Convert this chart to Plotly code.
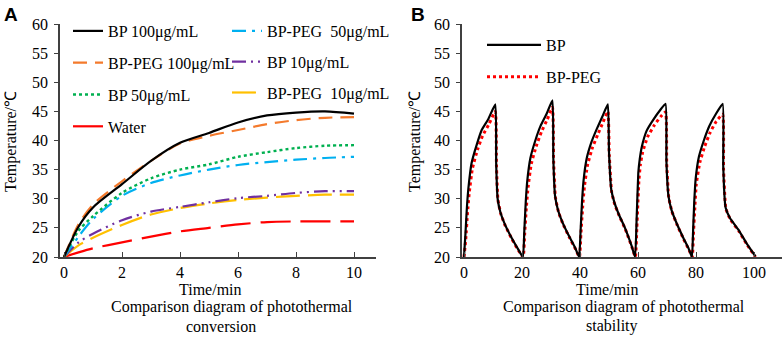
import plotly.graph_objects as go

# ---------------- Panel A data (photothermal conversion) ----------------
time_a = [0, 0.5, 1, 2, 3, 4, 5, 6, 7, 8, 9, 10]
bp100 = [20, 25.2, 28.5, 32.5, 36.5, 39.6, 41.3, 43.1, 44.3, 44.8, 45.0, 44.6]
bppeg100 = [20, 25.6, 29.0, 33.0, 36.5, 39.5, 40.8, 41.8, 42.8, 43.5, 43.9, 44.0]
bp50 = [20, 24.5, 27.0, 31.0, 33.5, 35.0, 35.9, 37.2, 38.0, 38.7, 39.1, 39.2]
bppeg50 = [20, 23.5, 26.5, 30.5, 32.7, 34.0, 35.0, 35.8, 36.3, 36.7, 37.0, 37.2]
bp10 = [20, 22.5, 24.0, 26.3, 27.8, 28.6, 29.4, 30.1, 30.5, 31.0, 31.3, 31.3]
bppeg10 = [20, 22.0, 23.3, 25.5, 27.3, 28.4, 29.2, 29.8, 30.2, 30.5, 30.7, 30.7]
water = [20, 20.8, 21.5, 22.5, 23.5, 24.4, 25.0, 25.6, 26.0, 26.1, 26.1, 26.1]

# ---------------- Panel B data (photothermal stability) ----------------
time_bp = [0, 0.5, 1, 1.5, 2.6, 4.4, 6.1, 8.4, 10.8,
           11.1, 11.6, 12.6, 14.1, 16.4, 18.7, 20.3,
           20.8, 21.3, 21.8, 22.9, 24.6, 26.4, 28.5, 30.5,
           30.8, 31.4, 32.5, 34.0, 36.3, 38.4, 39.7,
           40.2, 40.7, 41.2, 42.3, 44.0, 45.8, 47.8, 49.6,
           50.0, 50.8, 51.9, 53.4, 55.5, 57.8, 59.0,
           59.5, 60.1, 60.6, 61.3, 63.0, 65.3, 67.6, 69.5,
           69.8, 70.5, 71.6, 73.4, 75.6, 77.5, 78.6,
           79.0, 79.4, 79.9, 81.0, 82.7, 84.6, 86.8, 89.2,
           89.4, 90.2, 91.8, 94.6, 97.5, 100.5]
temp_bp = [20, 24.0, 28.5, 31.7, 36.1, 39.3, 41.8, 43.7, 46.2,
           36.0, 30.0, 27.6, 25.6, 23.3, 21.3, 20.0,
           24.5, 29.5, 33.0, 37.0, 40.0, 42.5, 44.6, 46.9,
           37.0, 30.5, 27.9, 25.9, 23.5, 21.5, 20.0,
           24.5, 29.5, 33.0, 36.9, 39.8, 42.0, 44.2, 46.2,
           38.0, 31.5, 29.3, 27.3, 25.0, 21.9, 20.0,
           26.1, 34.4, 36.8, 38.9, 41.7, 43.6, 45.2, 46.3,
           36.5, 30.5, 28.0, 25.7, 23.3, 21.4, 20.0,
           24.5, 29.5, 33.5, 37.2, 40.0, 42.5, 44.5, 46.3,
           35.5, 28.5, 26.6, 24.7, 22.3, 20.1]

time_peg = [0, 0.6, 1.2, 1.8, 2.9, 4.7, 6.4, 8.6, 10.8,
            11.2, 11.7, 12.7, 14.2, 16.5, 18.8, 20.4,
            20.9, 21.5, 22.1, 23.2, 24.9, 26.7, 28.7, 30.5,
            30.9, 31.5, 32.6, 34.1, 36.4, 38.5, 39.8,
            40.3, 40.9, 41.5, 42.6, 44.3, 46.1, 48.0, 49.6,
            50.1, 50.9, 52.0, 53.5, 55.6, 57.9, 59.1,
            59.6, 60.3, 60.8, 61.6, 63.3, 65.6, 67.8, 69.5,
            69.9, 70.6, 71.7, 73.5, 75.7, 77.6, 78.7,
            79.1, 79.6, 80.1, 81.3, 83.0, 84.9, 87.0, 89.2,
            89.5, 90.3, 91.9, 94.7, 97.6, 100.5]
temp_peg = [20, 23.0, 27.5, 31.0, 35.2, 38.5, 40.8, 42.8, 45.0,
            35.5, 29.8, 27.4, 25.4, 23.1, 21.1, 20.0,
            23.8, 28.5, 32.0, 36.0, 39.0, 41.5, 43.6, 45.7,
            36.5, 30.3, 27.7, 25.7, 23.3, 21.3, 20.0,
            23.8, 28.5, 32.0, 35.8, 38.8, 41.0, 43.2, 45.0,
            37.5, 31.2, 29.0, 27.1, 24.8, 21.7, 20.0,
            25.0, 33.0, 35.8, 38.0, 40.6, 42.6, 44.1, 44.9,
            36.0, 30.2, 27.8, 25.5, 23.1, 21.2, 20.0,
            23.8, 28.5, 32.5, 36.2, 39.0, 41.4, 43.3, 44.5,
            35.0, 28.3, 26.4, 24.5, 22.1, 20.0]

y_ticks = [20, 25, 30, 35, 40, 45, 50, 55, 60]
x_ticks_a = [0, 2, 4, 6, 8, 10]
x_ticks_b = [0, 20, 40, 60, 80, 100]

SERIF = "Liberation Serif"
W, H = 782, 338

fig = go.Figure()

series_a = [
    ("BP 100μg/mL", bp100, "#000000", "solid", 2.2, "legend"),
    ("BP-PEG 100μg/mL", bppeg100, "#F47A2C", "14px,8px", 2.2, "legend"),
    ("BP 50μg/mL", bp50, "#00B050", "3px,3px", 2.4, "legend"),
    ("Water", water, "#FF0000", "30px,10px", 2.2, "legend"),
    ("BP-PEG  50μg/mL", bppeg50, "#00B0F0", "14px,6px,3px,6px", 2.2, "legend2"),
    ("BP 10μg/mL", bp10, "#7030A0", "14px,5px,2px,5px,2px,5px", 2.2, "legend2"),
    ("BP-PEG  10μg/mL", bppeg10, "#FFC000", "24px,8px", 2.2, "legend2"),
]
draw_order = [3, 6, 5, 4, 2, 1, 0]
for i in draw_order:
    name, vals, col, dash, w, lg = series_a[i]
    fig.add_trace(go.Scatter(
        x=time_a, y=vals, name=name, mode="lines",
        line=dict(color=col, dash=dash, width=w, shape="spline", smoothing=0.8),
        xaxis="x", yaxis="y", legend=lg, legendrank=i + 1, legendgroup=name,
    ))

fig.add_trace(go.Scatter(
    x=time_peg, y=temp_peg, name="BP-PEG", mode="lines",
    line=dict(color="#FF0000", width=3, dash="3px,3px", shape="spline", smoothing=0.4),
    xaxis="x2", yaxis="y2", legend="legend3", legendrank=2, legendgroup="BP-PEG",
))
fig.add_trace(go.Scatter(
    x=time_bp, y=temp_bp, name="BP", mode="lines",
    line=dict(color="#000000", width=2.2, shape="spline", smoothing=0.4),
    xaxis="x2", yaxis="y2", legend="legend3", legendrank=1, legendgroup="BP",
))

def px_x(p):
    return p / W

def px_y(p):
    return 1 - p / H

tick_font = dict(family=SERIF, size=16, color="#000000")
line_common = dict(showline=True, linecolor="#404040", linewidth=1.6, showgrid=False,
                   zeroline=False, tickfont=tick_font, tickwidth=1.2, tickcolor="#404040",
                   automargin=False)

a0, a1 = 64, 354
sa = (a1 - a0) / 10
xa_range = [(60 - a0) / sa, (376 - a0) / sa]
b0, sb = 464, 2.9
xb_range = [(462 - b0) / sb, (782 - b0) / sb]

legend_font = dict(family=SERIF, size=16, color="#000000")
fig.update_layout(
    template="none",
    font=dict(family=SERIF, size=16, color="#000000"),
    width=W, height=H, autosize=False,
    margin=dict(l=0, r=0, t=0, b=0, pad=0),
    paper_bgcolor="white", plot_bgcolor="white",
    xaxis=dict(domain=[px_x(60), px_x(376)], range=xa_range, anchor="y",
               tickvals=x_ticks_a, ticks="inside", ticklen=5, **line_common),
    yaxis=dict(domain=[px_y(257), px_y(24)], range=[20, 60], anchor="x",
               tickvals=y_ticks, ticks="outside", ticklen=4, ticklabelstandoff=3, **line_common),
    xaxis2=dict(domain=[px_x(462), 1.0], range=xb_range, anchor="y2",
                tickvals=x_ticks_b, ticks="inside", ticklen=5, **line_common),
    yaxis2=dict(domain=[px_y(257), px_y(24)], range=[20, 60], anchor="x2",
                tickvals=y_ticks, ticks="outside", ticklen=4, ticklabelstandoff=3, **line_common),
    legend=dict(x=px_x(68), y=px_y(14), xanchor="left", yanchor="top", font=legend_font,
                bgcolor="rgba(0,0,0,0)", borderwidth=0, tracegroupgap=8, itemwidth=30,
                traceorder="grouped"),
    legend2=dict(x=px_x(227), y=px_y(14), xanchor="left", yanchor="top", font=legend_font,
                 bgcolor="rgba(0,0,0,0)", borderwidth=0, tracegroupgap=7, itemwidth=30,
                 traceorder="grouped"),
    legend3=dict(x=px_x(482), y=px_y(28), xanchor="left", yanchor="top", font=legend_font,
                 bgcolor="rgba(0,0,0,0)", borderwidth=0, tracegroupgap=8, itemwidth=54,
                 traceorder="grouped"),
    showlegend=True,
)

ann_font = dict(family=SERIF, size=16, color="#000000")
annotations = [
    dict(text="<b>A</b>", x=px_x(2), y=px_y(2), xanchor="left", yanchor="top",
         font=dict(family="Liberation Sans", size=19, color="#000000")),
    dict(text="<b>B</b>", x=px_x(409), y=px_y(2), xanchor="left", yanchor="top",
         font=dict(family="Liberation Sans", size=19, color="#000000")),
    dict(text="Temperature/℃", x=px_x(11), y=px_y(142), textangle=-90,
         xanchor="center", yanchor="middle", font=ann_font),
    dict(text="Temperature/℃", x=px_x(415), y=px_y(142), textangle=-90,
         xanchor="center", yanchor="middle", font=ann_font),
    dict(text="Time/min", x=px_x(211), y=px_y(289), xanchor="center", yanchor="middle", font=ann_font),
    dict(text="Time/min", x=px_x(607), y=px_y(289), xanchor="center", yanchor="middle", font=ann_font),
    dict(text="Comparison diagram of photothermal", x=px_x(232), y=px_y(307),
         xanchor="center", yanchor="middle", font=ann_font),
    dict(text="conversion", x=px_x(221), y=px_y(326), xanchor="center", yanchor="middle", font=ann_font),
    dict(text="Comparison diagram of photothermal", x=px_x(624), y=px_y(307),
         xanchor="center", yanchor="middle", font=ann_font),
    dict(text="stability", x=px_x(612), y=px_y(326), xanchor="center", yanchor="middle", font=ann_font),
]
for a in annotations:
    a.update(xref="paper", yref="paper", showarrow=False)
fig.update_layout(annotations=annotations)

fig.write_html("out.html", config={"displayModeBar": False},
               post_script="document.body.style.margin='0';document.body.style.overflow='hidden';")
